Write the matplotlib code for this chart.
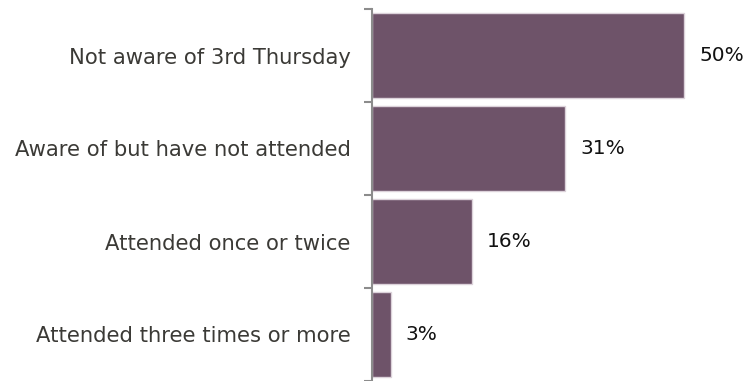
import matplotlib.pyplot as plt
import numpy as np

categories = ["Not aware of 3rd Thursday", "Aware of but have not attended",
              "Attended once or twice", "Attended three times or more"]
shares = [50, 31, 16, 3]

bar_color = "#6e5369"
edge_color = "#dcd2da"

fig = plt.figure(figsize=(7.44, 3.81), dpi=100)
ax = fig.add_axes([372 / 744, 0, 372 / 744, 1 - 9 / 381])

pos = np.arange(len(categories))
ax.barh(pos, shares, height=0.91, color=bar_color, edgecolor=edge_color,
        linewidth=1.0)

ax.set_ylim(len(categories) - 0.5, -0.5)
ax.set_xlim(0, 59.6)

# category names on the left, boundary ticks on the spine
ax.set_yticks(pos)
ax.set_yticklabels(categories, fontsize=15.2, color="#3b3a36")
ax.tick_params(axis="y", which="major", length=0, pad=15.5)
ax.set_yticks(np.arange(-0.5, len(categories)), minor=True)
ax.tick_params(axis="y", which="minor", length=6, width=1.5, color="#8c8c8c")
ax.set_xticks([])

for s in ["top", "right", "bottom"]:
    ax.spines[s].set_visible(False)
ax.spines["left"].set_color("#8c8c8c")
ax.spines["left"].set_linewidth(1.5)

for p, v in zip(pos, shares):
    ax.text(v + 2.4, p, f"{v}%", va="center", ha="left", fontsize=14.5,
            color="#111111")

fig.savefig("out.png", dpi=100)
